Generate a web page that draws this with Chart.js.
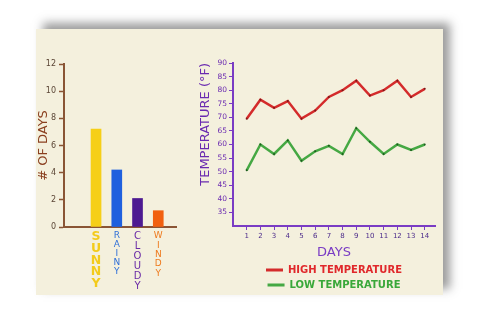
<!DOCTYPE html>
<html>
<head>
<meta charset="utf-8">
<script src="https://cdn.jsdelivr.net/npm/chart.js@4.4.1/dist/chart.umd.min.js"></script>
<style>
  html, body { margin: 0; padding: 0; background: #fff; }
  body { width: 480px; height: 322px; position: relative; overflow: hidden; }
  .paper {
    position: absolute; left: 36px; top: 29px; width: 407px; height: 266px;
    background: #f4f0dd;
    box-shadow: 7px -6px 9px rgba(60, 60, 60, 0.5);
  }
  #weather-wrap { position: absolute; left: 30px; top: 50px; width: 152px; height: 248px; }
  #temp-wrap { position: absolute; left: 190px; top: 45px; width: 255px; height: 255px; }
</style>
</head>
<body>
<div class="paper"></div>
<div id="weather-wrap"><canvas id="weather-chart"></canvas></div>
<div id="temp-wrap"><canvas id="temp-chart"></canvas></div>
<script>
// Weather: number of days per type
const weatherLabels = ['SUNNY', 'RAINY', 'CLOUDY', 'WINDY'];
const weatherDays = [7.2, 4.2, 2.1, 1.2];
const weatherBarColors = ['#f6cf17', '#1f60de', '#4d1a91', '#f1600f'];
const weatherTextColors = ['#f3cb1c', '#2f6fd8', '#6a2ba6', '#ee7a1e'];
const countTicks = [0, 2, 4, 6, 8, 10, 12];

// Temperature by day
const days = [1, 2, 3, 4, 5, 6, 7, 8, 9, 10, 11, 12, 13, 14];
const highTemps = [69.5, 76.5, 73.5, 76, 69.5, 72.5, 77.5, 80, 83.5, 78, 80, 83.5, 77.5, 80.5];
const lowTemps = [50.5, 60, 56.5, 61.5, 54, 57.5, 59.5, 56.5, 66, 61, 56.5, 60, 58, 60];
const tempTicks = [35, 40, 45, 50, 55, 60, 65, 70, 75, 80, 85, 90];

const FONT = 'DejaVu Sans';
const BROWN = '#8a5535';
const PURPLE = '#7a3cc4';

Chart.defaults.font.family = FONT;
Chart.defaults.animation = false;

// hand lettering differs per word, so each stacked label gets its own size
const letterFonts = [
  { size: 12.5, lineHeight: 0.94, weight: 'bold' },
  { size: 9, lineHeight: 1.0 },
  { size: 10, lineHeight: 1.0 },
  { size: 9, lineHeight: 1.05 },
];

// Bar chart — # of days
new Chart(document.getElementById('weather-chart'), {
  type: 'bar',
  data: {
    datasets: [{
      data: weatherDays.map((v, i) => ({ x: i + 1, y: v })),
      backgroundColor: weatherBarColors,
      barThickness: 10,
    }]
  },
  options: {
    responsive: true, maintainAspectRatio: false,
    layout: { padding: { top: 14, right: 6, left: 0, bottom: 0 } },
    plugins: { legend: { display: false }, tooltip: { enabled: false } },
    scales: {
      x: {
        type: 'linear', min: 0.13, max: 4.18,
        afterBuildTicks: s => { s.ticks = weatherLabels.map((l, i) => ({ value: i + 1 })); },
        afterFit: s => { s.height = 71; },
        grid: { display: false },
        border: { color: BROWN, width: 2 },
        ticks: {
          padding: -4,
          autoSkip: false, maxRotation: 0,
          font: c => letterFonts[c.index] || letterFonts[0],
          color: c => weatherTextColors[c.index],
          callback: (v, i) => weatherLabels[i].split(''),
        },
      },
      y: {
        min: 0, max: 12,
        afterBuildTicks: s => { s.ticks = countTicks.map(v => ({ value: v })); },
        afterFit: s => { s.width = 34; },
        grid: { drawOnChartArea: false, tickLength: 5, color: BROWN, tickWidth: 1.5 },
        border: { color: BROWN, width: 2 },
        ticks: { padding: 3, color: '#5b4636', font: { size: 8 } },
        title: {
          display: true, text: '# OF DAYS', color: '#8a3f1f',
          font: { size: 13 }, padding: { top: 6, bottom: 0 },
        },
      },
    },
  },
});

// Line chart — high / low temperature
new Chart(document.getElementById('temp-chart'), {
  type: 'line',
  data: {
    datasets: [
      {
        label: 'HIGH TEMPERATURE',
        data: days.map((d, i) => ({ x: d, y: highTemps[i] })),
        borderColor: '#d42b2b', borderWidth: 2.5,
        pointRadius: 1, pointBackgroundColor: '#7a1a1a', pointBorderWidth: 0,
        tension: 0,
      },
      {
        label: 'LOW TEMPERATURE',
        data: days.map((d, i) => ({ x: d, y: lowTemps[i] })),
        borderColor: '#45a843', borderWidth: 2.5,
        pointRadius: 1, pointBackgroundColor: '#1f5a1f', pointBorderWidth: 0,
        tension: 0,
      },
    ]
  },
  options: {
    responsive: true, maintainAspectRatio: false,
    layout: { padding: { top: 18, right: 10, left: 0, bottom: 0 } },
    plugins: {
      tooltip: { enabled: false },
      legend: {
        position: 'bottom', align: 'center', fullSize: false,
        labels: {
          boxWidth: 17, boxHeight: 3, padding: 5,
          font: { size: 10, weight: 'bold' },
          generateLabels: chart => chart.data.datasets.map((ds, i) => ({
            text: ds.label, fillStyle: ds.borderColor, strokeStyle: ds.borderColor,
            lineWidth: 0, fontColor: ['#e0282b', '#3aa83a'][i], datasetIndex: i,
          })),
        },
      },
    },
    scales: {
      x: {
        type: 'linear', min: 0, max: 14.75,
        afterBuildTicks: s => { s.ticks = days.map(v => ({ value: v })); },
        afterFit: s => { s.height = 34; },
        grid: { drawOnChartArea: false, tickLength: 4, color: PURPLE },
        border: { color: PURPLE, width: 2 },
        ticks: { padding: 2, color: '#4b2a8a', font: { size: 7 }, maxRotation: 0, autoSkip: false },
        title: {
          display: true, text: 'DAYS', color: PURPLE,
          font: { size: 13 }, padding: { top: 0, bottom: 0 },
        },
      },
      y: {
        min: 30, max: 90,
        afterBuildTicks: s => { s.ticks = tempTicks.map(v => ({ value: v })); },
        afterFit: s => { s.width = 43; },
        grid: { drawOnChartArea: false, tickLength: 4, color: PURPLE },
        border: { color: PURPLE, width: 2 },
        ticks: { padding: 2, color: '#6a2ab0', font: { size: 7.5 } },
        title: {
          display: true, text: 'TEMPERATURE (°F)', color: '#6a2ab0', align: 'end',
          font: { size: 13 }, padding: { top: 8, bottom: 0 },
        },
      },
    },
  },
});
</script>
</body>
</html>
